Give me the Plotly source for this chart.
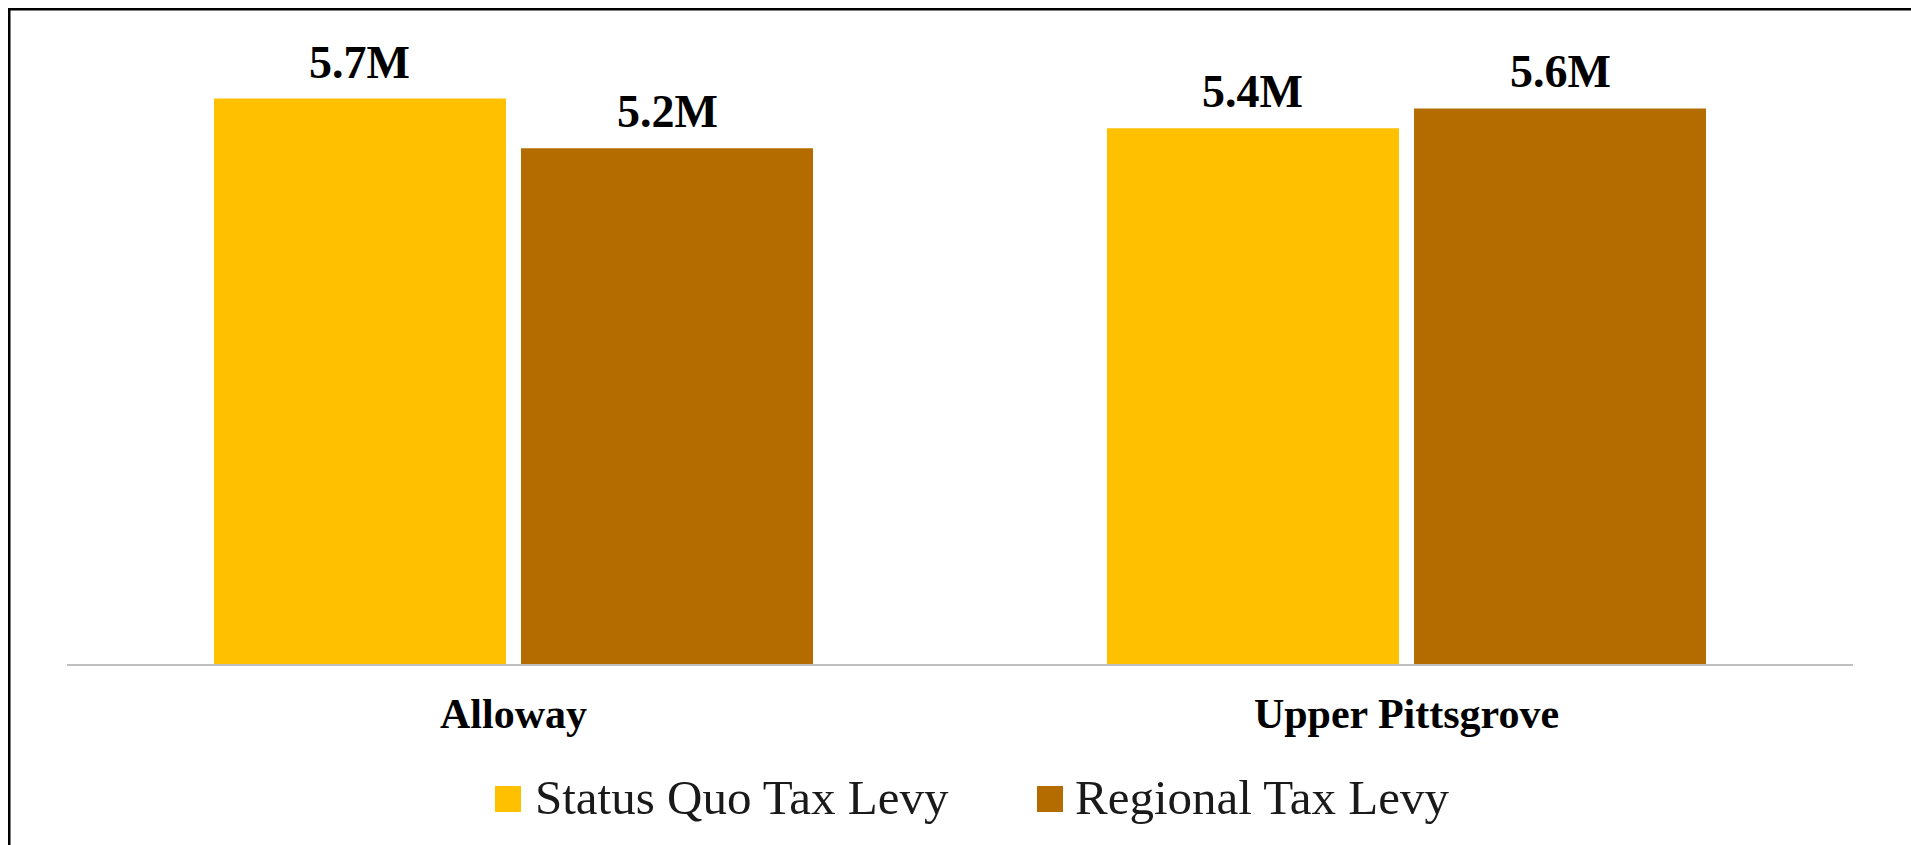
import plotly.graph_objects as go

# Tax levy comparison by municipality (values in millions)
municipalities = ["Alloway", "Upper Pittsgrove"]
series_names = ["Status Quo Tax Levy", "Regional Tax Levy"]
status_quo_levy = [5.7, 5.4]
regional_levy = [5.2, 5.6]
series_values = [status_quo_levy, regional_levy]
series_colors = ["#FFC000", "#B46C00"]

# Canvas and plot-area geometry (pixels)
W, H = 1911, 845
M_L, M_R, M_T, M_B = 67, 58, 10, 181
PLOT_W = W - M_L - M_R
PLOT_H = H - M_T - M_B
PX_PER_UNIT = 99.2
BARGAP = 0.3124
BARGROUPGAP = 0.0489

SERIF = "Liberation Serif, serif"


def px_x(px):
    return (px - M_L) / PLOT_W


def px_y(py):
    return (H - M_B - py) / PLOT_H


fig = go.Figure()
for name, vals, color in zip(series_names, series_values, series_colors):
    fig.add_trace(go.Bar(
        name=name,
        x=municipalities,
        y=vals,
        marker=dict(color=color, line=dict(width=0)),
        showlegend=False,
        hoverinfo="x+y+name",
    ))

# Value labels above each bar
n_series = len(series_values)
slot = (1 - BARGAP) / n_series
annotations = []
for j, vals in enumerate(series_values):
    offset = (j - (n_series - 1) / 2) * slot
    for i, v in enumerate(vals):
        annotations.append(dict(
            x=i + offset, y=v, xref="x", yref="y",
            text=f"{v}M", showarrow=False,
            xanchor="center", yanchor="bottom", yshift=9,
            font=dict(family=SERIF, size=46, color="#000000", weight="bold"),
        ))

# Legend drawn with larger swatches
legend_swatch_px = [(495, 521), (1037, 1063)]
legend_text_px = [533, 1073]
sw_top, sw_bot = 786, 812
shapes = []
for (x0, x1), tx, name, color in zip(legend_swatch_px, legend_text_px, series_names, series_colors):
    shapes.append(dict(
        type="rect", xref="paper", yref="paper",
        x0=px_x(x0), x1=px_x(x1), y0=px_y(sw_bot), y1=px_y(sw_top),
        fillcolor=color, line=dict(width=0),
    ))
    annotations.append(dict(
        x=px_x(tx), y=px_y(797), xref="paper", yref="paper",
        text=name, showarrow=False, xanchor="left", yanchor="middle",
        font=dict(family=SERIF, size=49, color="#1a1a1a"),
    ))

# Outer frame: top and left edges
frame_px = 9.25
shapes.append(dict(
    type="line", xref="paper", yref="paper",
    x0=px_x(frame_px - 1.25), x1=px_x(W), y0=px_y(frame_px), y1=px_y(frame_px),
    line=dict(color="#000000", width=2.5),
))
shapes.append(dict(
    type="line", xref="paper", yref="paper",
    x0=px_x(frame_px), x1=px_x(frame_px), y0=px_y(frame_px - 1.25), y1=px_y(H),
    line=dict(color="#000000", width=2.5),
))

fig.update_layout(
    width=W, height=H, autosize=False,
    margin=dict(l=M_L, r=M_R, t=M_T, b=M_B, pad=0),
    paper_bgcolor="#FFFFFF", plot_bgcolor="#FFFFFF",
    barmode="group", bargap=BARGAP, bargroupgap=BARGROUPGAP,
    showlegend=False,
    annotations=annotations,
    shapes=shapes,
    xaxis=dict(
        type="category", showline=True, linecolor="#BFBFBF", linewidth=2,
        ticks="", showgrid=False, zeroline=False,
        tickfont=dict(family=SERIF, size=42, color="#000000", weight="bold"),
        ticklabelstandoff=12,
    ),
    yaxis=dict(range=[0, PLOT_H / PX_PER_UNIT], visible=False,
               showgrid=False, zeroline=False),
)

fig.write_html("out.html")
